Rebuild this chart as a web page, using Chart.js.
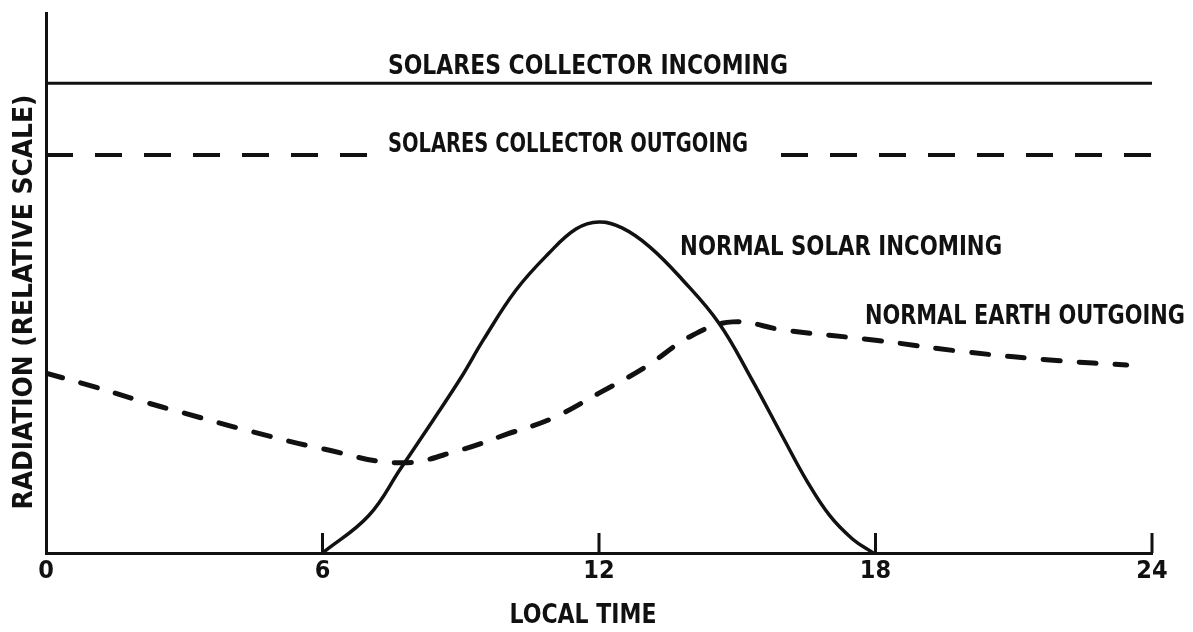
<!DOCTYPE html>
<html>
<head>
<meta charset="utf-8">
<script src="https://cdn.jsdelivr.net/npm/chart.js@4/dist/chart.umd.min.js"></script>
<style>
  html, body { margin: 0; padding: 0; background: #fff; }
  #wrap { width: 1193px; height: 632px; }
</style>
</head>
<body>
<div id="wrap"><canvas id="radChart" width="1193" height="632"></canvas></div>
<script>
// hours of local time, radiation on a relative 0-10 scale
const collectorHours = [0, 24];
const collectorIncoming = [8.7, 8.7];
const collectorOutgoing = [7.37, 7.37];

const solarHours = [6, 7, 7.7, 8.4, 9, 9.5, 10.2, 10.9, 11.5, 12, 12.5, 13.1, 13.8, 14.6, 15.3, 16, 16.5, 17, 17.5, 17.95];
const solarIncoming = [0, 0.69, 1.57, 2.46, 3.24, 3.96, 4.87, 5.54, 6.0, 6.13, 6.02, 5.67, 5.07, 4.26, 3.24, 2.13, 1.35, 0.7, 0.26, 0];

const earthHours = [0, 1, 2, 3, 4.5, 6, 7.7, 9, 10, 11, 12, 13, 14, 14.9, 16, 18, 20, 22, 23.45];
const earthOutgoing = [3.33, 3.09, 2.83, 2.59, 2.24, 1.93, 1.67, 1.91, 2.2, 2.5, 2.96, 3.44, 4.02, 4.28, 4.13, 3.94, 3.72, 3.56, 3.48];

const xTicks = [0, 6, 12, 18, 24];

const curveNames = ['SOLARES COLLECTOR INCOMING', 'SOLARES COLLECTOR OUTGOING', 'NORMAL SOLAR INCOMING', 'NORMAL EARTH OUTGOING'];
const xTitle = 'LOCAL TIME';
const yTitle = 'RADIATION (RELATIVE SCALE)';

const FONT = "'DejaVu Sans Condensed', 'Liberation Sans Narrow', 'DejaVu Sans', sans-serif";
const INK = '#111';

const toPoints = (xs, ys) => xs.map((x, i) => ({ x: x, y: ys[i] }));

// where the hand lettering sits: anchor in data units, width in px
const labelSpots = [
    { hour: 7.42, value: 9.0, width: 400 },
    { hour: 7.42, value: 7.55, width: 360, knockout: 393 },
    { hour: 13.76, value: 5.65, width: 322 },
    { hour: 17.77, value: 4.37, width: 320 }
];

function squeezeText(ctx, txt, x, y, width, rot) {
    const w = ctx.measureText(txt).width;
    ctx.save();
    ctx.translate(x, y);
    if (rot) ctx.rotate(rot);
    ctx.scale(width / w, 1);
    ctx.fillText(txt, 0, 0);
    ctx.restore();
}

const annotate = {
    id: 'annotate',
    afterDatasetsDraw(chart) {
        const ctx = chart.ctx;
        const xs = chart.scales.x, ys = chart.scales.y;
        ctx.save();
        // tick marks point up into the plot
        ctx.strokeStyle = INK;
        ctx.lineWidth = 3;
        xTicks.slice(1).forEach(t => {
            const px = xs.getPixelForValue(t);
            ctx.beginPath();
            ctx.moveTo(px, ys.bottom);
            ctx.lineTo(px, ys.bottom - 20);
            ctx.stroke();
        });

        ctx.font = 'bold 27px ' + FONT;
        ctx.textBaseline = 'middle';
        ctx.textAlign = 'left';
        curveNames.forEach((txt, i) => {
            const s = labelSpots[i];
            const px = xs.getPixelForValue(s.hour);
            const py = ys.getPixelForValue(s.value);
            if (s.knockout) {
                ctx.fillStyle = '#fff';
                ctx.fillRect(px - 2, py - 17, s.knockout, 34);
            }
            ctx.fillStyle = INK;
            squeezeText(ctx, txt, px, py, s.width);
        });

        // axis titles
        ctx.textAlign = 'center';
        squeezeText(ctx, xTitle, 583, 616, 147);
        squeezeText(ctx, yTitle, 25, 302, 415, -Math.PI / 2);
        ctx.restore();
    }
};

const ctx = document.getElementById('radChart').getContext('2d');

const chart = new Chart(ctx, {
    type: 'line',
    data: {
        datasets: [
            {
                label: 'Solares collector incoming',
                data: toPoints(collectorHours, collectorIncoming),
                borderColor: INK,
                borderWidth: 3,
                pointRadius: 0
            },
            {
                label: 'Solares collector outgoing',
                data: toPoints(collectorHours, collectorOutgoing),
                borderColor: INK,
                borderWidth: 4,
                borderDash: [27, 22],
                pointRadius: 0
            },
            {
                label: 'Normal solar incoming',
                data: toPoints(solarHours, solarIncoming),
                borderColor: INK,
                borderWidth: 3.5,
                tension: 0.4,
                pointRadius: 0
            },
            {
                label: 'Normal earth outgoing',
                data: toPoints(earthHours, earthOutgoing),
                borderColor: INK,
                borderWidth: 5,
                borderDash: [17, 19],
                borderCapStyle: 'round',
                tension: 0.4,
                pointRadius: 0
            }
        ]
    },
    options: {
        responsive: false,
        animation: false,
        layout: { padding: { top: 13, right: 41, left: 0, bottom: 0 } },
        plugins: {
            legend: { display: false },
            tooltip: { enabled: false }
        },
        scales: {
            x: {
                type: 'linear',
                min: 0,
                max: 24,
                afterBuildTicks: (scale) => { scale.ticks = xTicks.map(v => ({ value: v })); },
                afterFit: (scale) => { scale.height = 79; },
                grid: { display: false, drawTicks: false },
                border: { display: true, color: INK, width: 3 },
                ticks: {
                    padding: 3,
                    color: INK,
                    font: { family: FONT, size: 25, weight: 'bold' }
                },
                title: { display: false }
            },
            y: {
                min: 0,
                max: 10,
                afterFit: (scale) => { scale.width = 46; },
                grid: { display: false, drawTicks: false },
                border: { display: true, color: INK, width: 3 },
                ticks: { display: false },
                title: { display: false }
            }
        }
    },
    plugins: [annotate]
});
</script>
</body>
</html>
